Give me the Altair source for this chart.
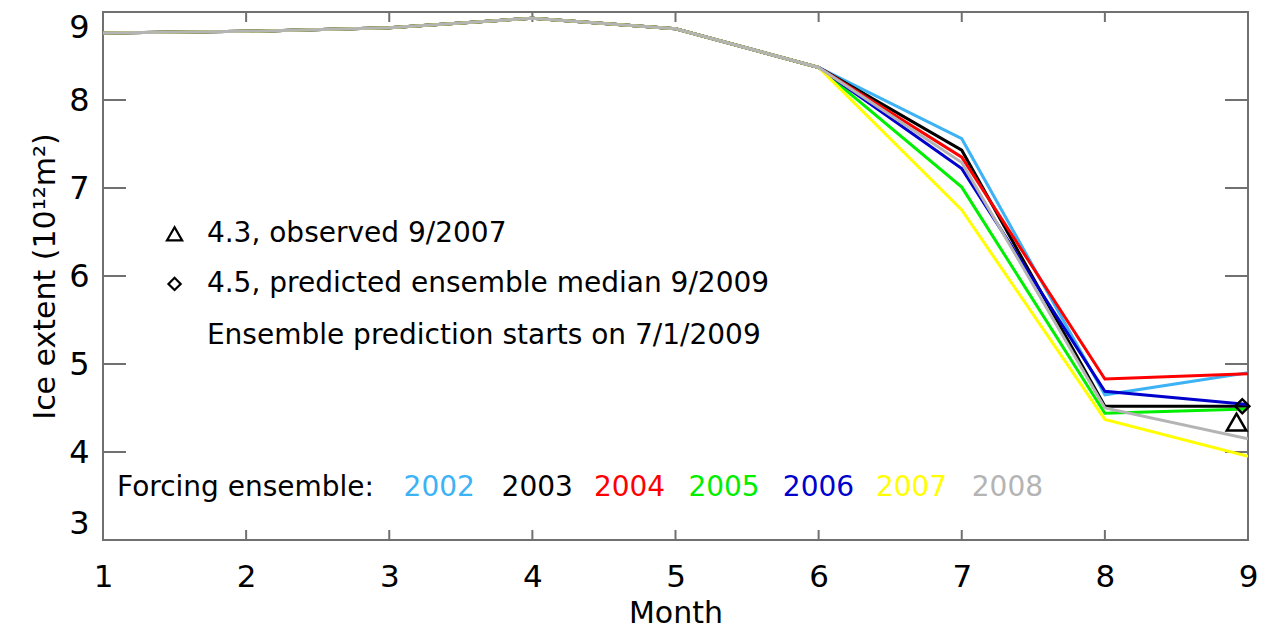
import altair as alt
import pandas as pd

# ---- data ----
months = [1, 2, 3, 4, 5, 6, 7, 8, 9]
years = ["2002", "2003", "2004", "2005", "2006", "2007", "2008"]
colors = ["#3DB2F5", "#000000", "#FF0000", "#00EE00", "#0000CC", "#FFFF00", "#B4B4B4"]
shared = [8.76, 8.78, 8.82, 8.93, 8.81, 8.37]  # months 1-6, common to all runs
month7 = [7.56, 7.43, 7.35, 7.01, 7.22, 6.75, 7.29]
month8 = [4.65, 4.52, 4.83, 4.44, 4.69, 4.37, 4.50]
month9 = [4.90, 4.52, 4.89, 4.49, 4.54, 3.95, 4.15]

observed_month, observed_value = 8.92, 4.34
median_month, median_value = 8.96, 4.52

y_ticks = [4, 5, 6, 7, 8]
x_ticks = [2, 3, 4, 5, 6, 7, 8]

note_texts = ["4.3, observed 9/2007", "4.5, predicted ensemble median 9/2009",
              "Ensemble prediction starts on 7/1/2009"]
note_month = 1.726
note_values = [6.48, 5.91, 5.32]
symbol_month = 1.50

legend_title = "Forcing ensemble:"
legend_title_month = 1.098
legend_value = 3.59
legend_year_months = [3.10, 3.785, 4.43, 5.09, 5.75, 6.40, 7.07]

# ---- tables ----
rows = []
for i, yr in enumerate(years):
    vals = shared + [month7[i], month8[i], month9[i]]
    for m, v in zip(months, vals):
        rows.append({"year": yr, "month": m, "value": v})
lines_df = pd.DataFrame(rows)

W, H = 1145, 528
FONT = "DejaVu Sans"
GRAY = "#707070"
TXT = 28

xs = alt.Scale(domain=[1, 9], nice=False, zero=False)
ys = alt.Scale(domain=[3, 9], nice=False, zero=False)
X = alt.X("month:Q", scale=xs,
          axis=alt.Axis(values=months, format="d", title="Month", labelFlush=False,
                        labelFontSize=31))
Y = alt.Y("value:Q", scale=ys,
          axis=alt.Axis(values=[3, 4, 5, 6, 7, 8, 9], format="d",
                        title="Ice extent (10¹²m²)", labelFlush=True))
color_scale = alt.Scale(domain=years, range=colors)

lines = alt.Chart(lines_df).mark_line(strokeWidth=3, clip=True).encode(
    x=X, y=Y,
    color=alt.Color("year:N", scale=color_scale, legend=None),
    order=alt.Order("month:Q"),
)

obs_df = pd.DataFrame({"month": [observed_month], "value": [observed_value]})
med_df = pd.DataFrame({"month": [median_month], "value": [median_value]})
obs_pt = alt.Chart(obs_df).mark_point(shape="triangle-up", filled=False, color="black",
                                      strokeWidth=2.5, size=380, opacity=1).encode(x=X, y=Y)
med_pt = alt.Chart(med_df).mark_point(shape="diamond", filled=False, color="black",
                                      strokeWidth=2.5, size=200, opacity=1).encode(x=X, y=Y)

sym_tri_df = pd.DataFrame({"month": [symbol_month], "value": [note_values[0]]})
sym_dia_df = pd.DataFrame({"month": [symbol_month], "value": [note_values[1]]})
sym_tri = alt.Chart(sym_tri_df).mark_point(shape="triangle-up", filled=False, color="black",
                                           strokeWidth=2.2, size=230, opacity=1).encode(x=X, y=Y)
sym_dia = alt.Chart(sym_dia_df).mark_point(shape="diamond", filled=False, color="black",
                                           strokeWidth=2.2, size=150, opacity=1).encode(x=X, y=Y)

notes_df = pd.DataFrame({"month": [note_month] * 3, "value": note_values, "label": note_texts})
notes = alt.Chart(notes_df).mark_text(align="left", baseline="middle", font=FONT,
                                      fontSize=TXT, color="black").encode(
    x=X, y=Y, text="label:N")

leg_title_df = pd.DataFrame({"month": [legend_title_month], "value": [legend_value],
                             "label": [legend_title]})
leg_title = alt.Chart(leg_title_df).mark_text(align="left", baseline="middle", font=FONT,
                                              fontSize=TXT, color="black").encode(
    x=X, y=Y, text="label:N")

leg_years_df = pd.DataFrame({"month": legend_year_months, "value": [legend_value] * len(years),
                             "year": years})
leg_years = alt.Chart(leg_years_df).mark_text(align="left", baseline="middle", font=FONT,
                                              fontSize=TXT).encode(
    x=X, y=Y, text="year:N",
    color=alt.Color("year:N", scale=color_scale, legend=None))

# inward tick marks
yt_df = pd.DataFrame({"value": y_ticks})
xt_df = pd.DataFrame({"month": x_ticks})
yt_left = alt.Chart(yt_df).mark_rule(color=GRAY, strokeWidth=2).encode(
    y=Y, x=alt.value(0), x2=alt.value(23))
yt_right = alt.Chart(yt_df).mark_rule(color=GRAY, strokeWidth=2).encode(
    y=Y, x=alt.value(W - 23), x2=alt.value(W))
xt_bottom = alt.Chart(xt_df).mark_rule(color=GRAY, strokeWidth=2).encode(
    x=X, y=alt.value(H - 10), y2=alt.value(H))
xt_top = alt.Chart(xt_df).mark_rule(color=GRAY, strokeWidth=2).encode(
    x=X, y=alt.value(0), y2=alt.value(10))

chart = alt.layer(
    yt_left, yt_right, xt_bottom, xt_top,
    lines, obs_pt, med_pt, sym_tri, sym_dia, notes, leg_title, leg_years,
).properties(
    width=W, height=H,
    autosize=alt.AutoSizeParams(type="none"),
    padding={"left": 95, "top": 4, "right": 9, "bottom": 90},
    background="white",
).configure_view(
    stroke=GRAY, strokeWidth=2
).configure_axis(
    grid=False, ticks=False, domain=False,
    labelFont=FONT, labelFontSize=32, labelColor="black",
    titleFont=FONT, titleFontSize=30, titleColor="black", titleFontWeight="normal",
).configure_axisX(
    labelPadding=22, titlePadding=6,
).configure_axisY(
    labelPadding=14, titlePadding=8,
)

chart.save("out.html", embed_options={"renderer": "svg", "actions": False})
